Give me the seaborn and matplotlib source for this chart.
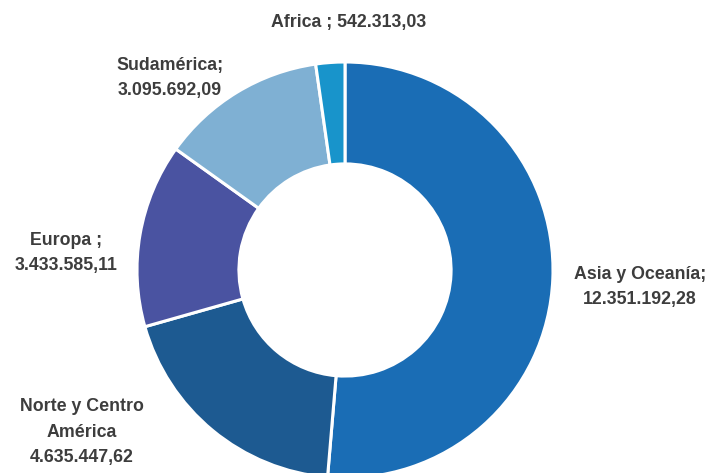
import matplotlib
matplotlib.use("Agg")
import matplotlib.pyplot as plt
import seaborn as sns

# data
regions = ["Asia y Oceanía", "Norte y Centro América", "Europa", "Sudamérica", "Africa"]
values = [12351192.28, 4635447.62, 3433585.11, 3095692.09, 542313.03]
label_heads = ["Asia y Oceanía;", "Norte y Centro\nAmérica", "Europa ;", "Sudamérica;", "Africa ;"]
colors = ["#1a6db5", "#1d5a91", "#4a53a1", "#7fb0d3", "#1894cb"]

# label placement (data units, radius = 1)
label_pos = [(1.418, -0.082), (-1.264, -0.779), (-1.341, 0.082), (-0.841, 0.923), (0.019, 1.192)]


def fmt_es(v):
    s = f"{v:,.2f}"
    return s.replace(",", "X").replace(".", ",").replace("X", ".")


sns.set_theme(style="white")
plt.rcParams["font.family"] = ["Liberation Sans", "DejaVu Sans"]

fig = plt.figure(figsize=(7.13, 4.73), dpi=100)
ax = fig.add_axes([0, 0, 1, 1])

palette = sns.color_palette(colors)
wedges, _ = ax.pie(values, colors=palette, startangle=90, counterclock=False,
                   radius=1.0, wedgeprops=dict(width=0.49, edgecolor="white", linewidth=2.2))

for head, v, (x, y) in zip(label_heads, values, label_pos):
    sep = " " if head.startswith("Africa") else "\n"
    ax.text(x, y, head + sep + fmt_es(v), ha="center", va="center",
            fontsize=12.8, fontweight="bold", color="#3d3d3d", linespacing=1.62)

ax.set_aspect("equal")
ax.set_xlim(-345 / 208, (713 - 345) / 208)
ax.set_ylim(-203 / 208, 270 / 208)
ax.axis("off")

fig.savefig("out.png", dpi=100)
